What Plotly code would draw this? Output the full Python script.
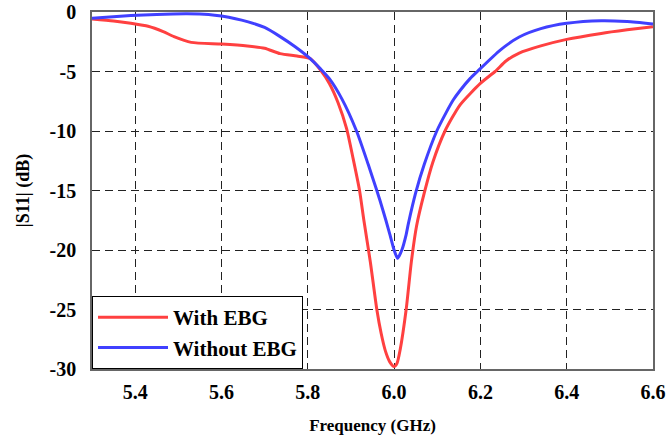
import plotly.graph_objects as go

freq_ebg = [5.30, 5.35, 5.39, 5.43, 5.465, 5.49, 5.53, 5.60, 5.66, 5.70, 5.736, 5.775, 5.805, 5.83,
            5.85, 5.87, 5.89, 5.905, 5.92, 5.93, 5.945, 5.96, 5.97, 5.98, 5.99, 6.00, 6.007, 6.014,
            6.028, 6.04, 6.052, 6.07, 6.09, 6.118, 6.153, 6.20, 6.234, 6.26, 6.29, 6.34, 6.40, 6.48, 6.54, 6.60]
s11_ebg = [-0.58, -0.75, -0.95, -1.2, -1.65, -2.07, -2.55, -2.69, -2.86, -3.05, -3.5, -3.70, -3.9, -4.9,
           -6.0, -7.6, -9.8, -12.3, -15.0, -17.5, -21.0, -25.0, -27.0, -28.5, -29.4, -29.8, -29.5, -28.4,
           -25.0, -21.0, -18.0, -15.2, -12.6, -10.0, -7.8, -6.0, -5.0, -4.1, -3.45, -2.85, -2.3, -1.8, -1.5, -1.23]

freq_no = [5.30, 5.39, 5.45, 5.52, 5.57, 5.60, 5.66, 5.70, 5.736, 5.77, 5.805, 5.83, 5.85, 5.879,
           5.913, 5.94, 5.96, 5.967, 5.981, 5.991, 6.00, 6.008, 6.018, 6.028, 6.033, 6.05, 6.07,
           6.099, 6.12, 6.137, 6.153, 6.176, 6.193, 6.246, 6.29, 6.34, 6.40, 6.48, 6.54, 6.60]
s11_no = [-0.53, -0.3, -0.2, -0.15, -0.2, -0.34, -0.81, -1.3, -2.07, -2.9, -3.9, -4.8, -5.6, -7.3,
          -10.0, -12.8, -15.0, -15.8, -17.5, -18.8, -20.0, -20.7, -20.0, -18.7, -17.8, -15.2, -12.8,
          -10.0, -8.5, -7.4, -6.6, -5.6, -5.0, -3.2, -2.1, -1.4, -0.95, -0.73, -0.8, -1.0]

x_ticks = [5.4, 5.6, 5.8, 6.0, 6.2, 6.4, 6.6]
x_labels = ["5.4", "5.6", "5.8", "6.0", "6.2", "6.4", "6.6"]
y_ticks = [0, -5, -10, -15, -20, -25, -30]
y_labels = ["0", "-5", "-10", "-15", "-20", "-25", "-30"]

FONT = "Liberation Serif"

fig = go.Figure()
fig.add_trace(go.Scatter(x=freq_ebg, y=s11_ebg, mode="lines", name="With EBG",
                         line=dict(color="#FF4040", width=3, shape="spline", smoothing=0.6)))
fig.add_trace(go.Scatter(x=freq_no, y=s11_no, mode="lines", name="Without EBG",
                         line=dict(color="#4040FF", width=3, shape="spline", smoothing=0.6)))

fig.update_layout(
    width=666, height=439,
    margin=dict(l=92, r=13, t=12, b=70),
    paper_bgcolor="white", plot_bgcolor="white",
    font=dict(family=FONT, size=20, color="black", weight="bold"),
    legend=dict(x=0, y=0, xanchor="left", yanchor="bottom",
                bgcolor="white", bordercolor="black", borderwidth=1,
                font=dict(family=FONT, size=21, color="black", weight="bold"),
                tracegroupgap=0, itemwidth=70),
    xaxis=dict(range=[5.3, 6.6], tickvals=x_ticks, ticktext=x_labels, automargin=False,
               showgrid=True, gridcolor="#222", griddash="8px,5px", gridwidth=1,
               showline=True, linecolor="#666", linewidth=1.5, mirror=True,
               zeroline=False, ticks="", ticklabelstandoff=4,
               title=dict(text="Frequency (GHz)", font=dict(family=FONT, size=17, weight="bold"), standoff=17)),
    yaxis=dict(range=[-30, 0], tickvals=y_ticks, ticktext=y_labels, automargin=False,
               showgrid=True, gridcolor="#222", griddash="8px,5px", gridwidth=1,
               showline=True, linecolor="#666", linewidth=1.5, mirror=True,
               zeroline=False, ticks="", ticklabelstandoff=10,
               title=dict(text="|S11| (dB)", font=dict(family=FONT, size=18, weight="bold"), standoff=15)),
)

fig.write_html("out.html", config={"displayModeBar": False},
               post_script="document.body.style.margin='0';document.body.style.overflow='hidden';")
